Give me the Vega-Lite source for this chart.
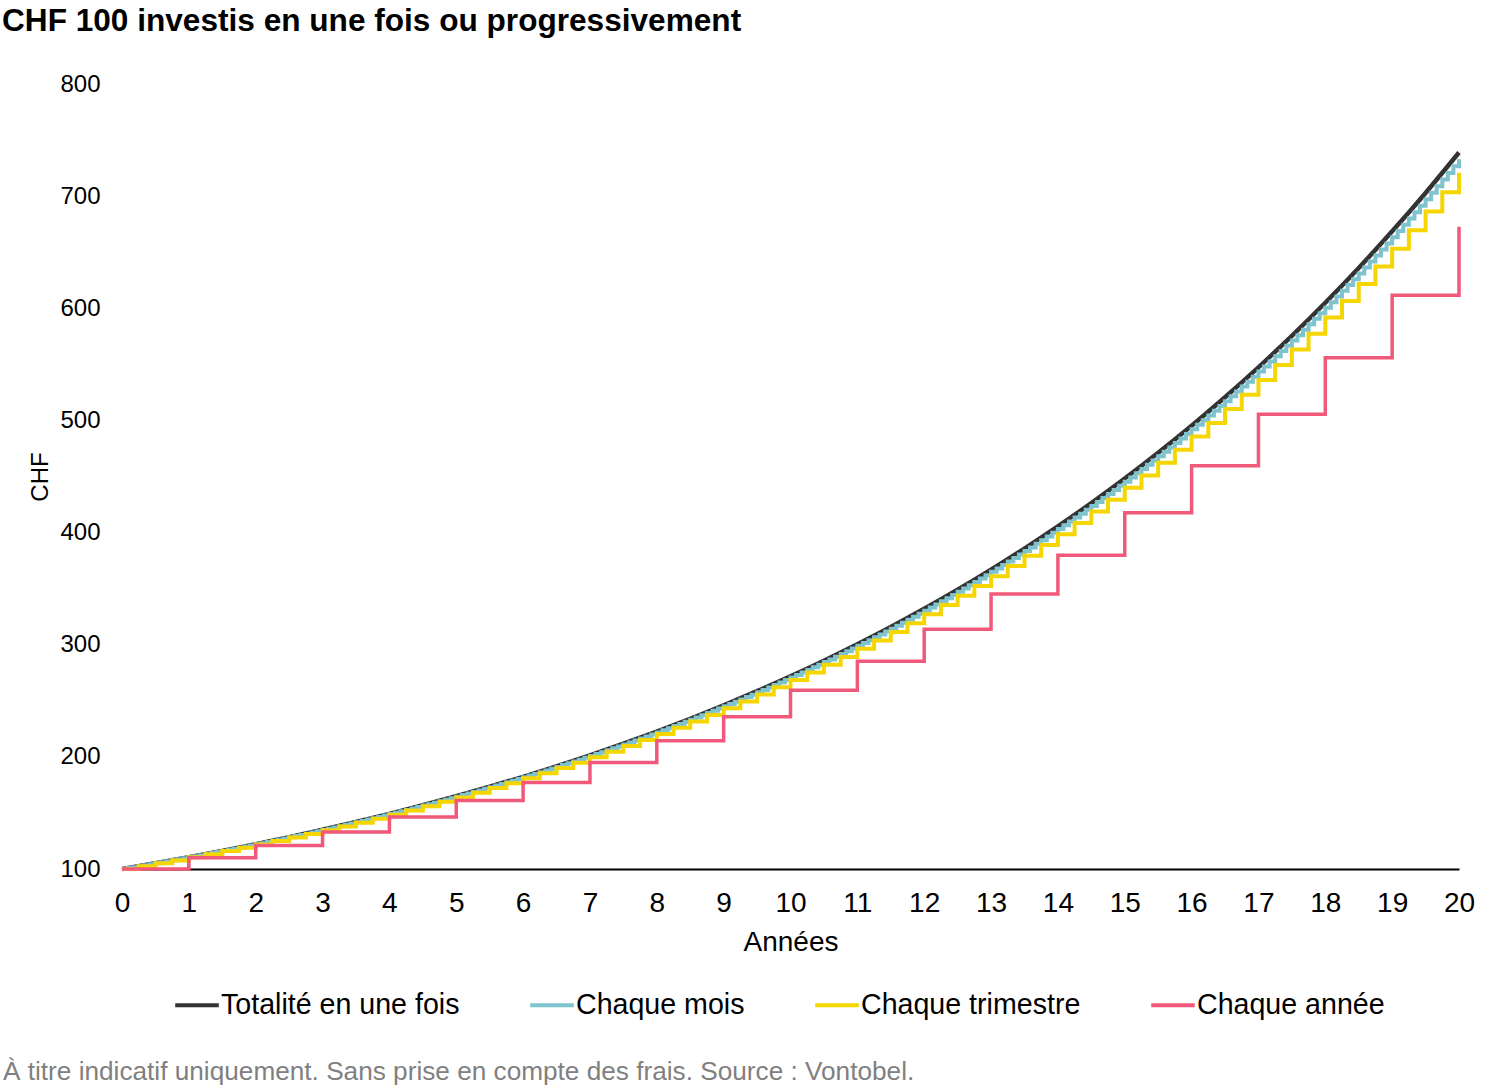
{
  "$schema": "https://vega.github.io/schema/vega-lite/v6.json",
  "width": 1337,
  "height": 785,
  "autosize": {"type": "none"},
  "padding": {"left": 122, "top": 84, "right": 41, "bottom": 218},
  "background": "white",
  "title": {
    "text": "CHF 100 investis en une fois ou progressivement",
    "anchor": "start",
    "frame": "group",
    "dx": -120,
    "offset": 34,
    "fontSize": 31.6,
    "fontWeight": "bold",
    "font": "Liberation Sans",
    "color": "#000000"
  },
  "config": {
    "view": {"stroke": null},
    "font": "Liberation Sans",
    "legend": {
      "symbolType": "stroke",
      "symbolSize": 1900,
      "symbolStrokeWidth": 4,
      "labelFontSize": 28.6,
      "labelFont": "Liberation Sans",
      "labelColor": "#000000",
      "labelOffset": 0,
      "labelLimit": 0,
      "columnPadding": 62,
      "padding": 0
    }
  },
  "datasets": {
    "unefois": [
      {"t": 0, "v": 100}, {"t": 0.5, "v": 105.13}, {"t": 1, "v": 110.52}, {"t": 1.5, "v": 116.18},
      {"t": 2, "v": 122.14}, {"t": 2.5, "v": 128.40}, {"t": 3, "v": 134.99}, {"t": 3.5, "v": 141.91},
      {"t": 4, "v": 149.18}, {"t": 4.5, "v": 156.83}, {"t": 5, "v": 164.87}, {"t": 5.5, "v": 173.33},
      {"t": 6, "v": 182.21}, {"t": 6.5, "v": 191.55}, {"t": 7, "v": 201.38}, {"t": 7.5, "v": 211.70},
      {"t": 8, "v": 222.55}, {"t": 8.5, "v": 233.96}, {"t": 9, "v": 245.96}, {"t": 9.5, "v": 258.57},
      {"t": 10, "v": 271.83}, {"t": 10.5, "v": 285.77}, {"t": 11, "v": 300.42}, {"t": 11.5, "v": 315.82},
      {"t": 12, "v": 332.01}, {"t": 12.5, "v": 349.03}, {"t": 13, "v": 366.93}, {"t": 13.5, "v": 385.74},
      {"t": 14, "v": 405.52}, {"t": 14.5, "v": 426.31}, {"t": 15, "v": 448.17}, {"t": 15.5, "v": 471.15},
      {"t": 16, "v": 495.30}, {"t": 16.5, "v": 520.70}, {"t": 17, "v": 547.39}, {"t": 17.5, "v": 575.46},
      {"t": 18, "v": 604.96}, {"t": 18.5, "v": 635.98}, {"t": 19, "v": 668.59}, {"t": 19.5, "v": 702.87},
      {"t": 20, "v": 738.91}
    ],
    "mois": [
      {"t": 0, "v": 100}, {"t": 0.0833, "v": 100.83}, {"t": 0.1667, "v": 101.67}, {"t": 0.25, "v": 102.52}, {"t": 0.3333, "v": 103.38}, {"t": 0.4167, "v": 104.24},
      {"t": 0.5, "v": 105.11}, {"t": 0.5833, "v": 105.98}, {"t": 0.6667, "v": 106.86}, {"t": 0.75, "v": 107.75}, {"t": 0.8333, "v": 108.65}, {"t": 0.9167, "v": 109.56},
      {"t": 1, "v": 110.47}, {"t": 1.0833, "v": 111.39}, {"t": 1.1667, "v": 112.32}, {"t": 1.25, "v": 113.26}, {"t": 1.3333, "v": 114.20}, {"t": 1.4167, "v": 115.15},
      {"t": 1.5, "v": 116.11}, {"t": 1.5833, "v": 117.08}, {"t": 1.6667, "v": 118.05}, {"t": 1.75, "v": 119.04}, {"t": 1.8333, "v": 120.03}, {"t": 1.9167, "v": 121.03},
      {"t": 2, "v": 122.04}, {"t": 2.0833, "v": 123.06}, {"t": 2.1667, "v": 124.08}, {"t": 2.25, "v": 125.12}, {"t": 2.3333, "v": 126.16}, {"t": 2.4167, "v": 127.21},
      {"t": 2.5, "v": 128.27}, {"t": 2.5833, "v": 129.34}, {"t": 2.6667, "v": 130.42}, {"t": 2.75, "v": 131.50}, {"t": 2.8333, "v": 132.60}, {"t": 2.9167, "v": 133.70},
      {"t": 3, "v": 134.82}, {"t": 3.0833, "v": 135.94}, {"t": 3.1667, "v": 137.07}, {"t": 3.25, "v": 138.22}, {"t": 3.3333, "v": 139.37}, {"t": 3.4167, "v": 140.53},
      {"t": 3.5, "v": 141.70}, {"t": 3.5833, "v": 142.88}, {"t": 3.6667, "v": 144.07}, {"t": 3.75, "v": 145.27}, {"t": 3.8333, "v": 146.48}, {"t": 3.9167, "v": 147.70},
      {"t": 4, "v": 148.94}, {"t": 4.0833, "v": 150.18}, {"t": 4.1667, "v": 151.43}, {"t": 4.25, "v": 152.69}, {"t": 4.3333, "v": 153.96}, {"t": 4.4167, "v": 155.25},
      {"t": 4.5, "v": 156.54}, {"t": 4.5833, "v": 157.84}, {"t": 4.6667, "v": 159.16}, {"t": 4.75, "v": 160.49}, {"t": 4.8333, "v": 161.82}, {"t": 4.9167, "v": 163.17},
      {"t": 5, "v": 164.53}, {"t": 5.0833, "v": 165.90}, {"t": 5.1667, "v": 167.28}, {"t": 5.25, "v": 168.68}, {"t": 5.3333, "v": 170.08}, {"t": 5.4167, "v": 171.50},
      {"t": 5.5, "v": 172.93}, {"t": 5.5833, "v": 174.37}, {"t": 5.6667, "v": 175.83}, {"t": 5.75, "v": 177.29}, {"t": 5.8333, "v": 178.77}, {"t": 5.9167, "v": 180.26},
      {"t": 6, "v": 181.76}, {"t": 6.0833, "v": 183.27}, {"t": 6.1667, "v": 184.80}, {"t": 6.25, "v": 186.34}, {"t": 6.3333, "v": 187.89}, {"t": 6.4167, "v": 189.46},
      {"t": 6.5, "v": 191.04}, {"t": 6.5833, "v": 192.63}, {"t": 6.6667, "v": 194.24}, {"t": 6.75, "v": 195.85}, {"t": 6.8333, "v": 197.49}, {"t": 6.9167, "v": 199.13},
      {"t": 7, "v": 200.79}, {"t": 7.0833, "v": 202.47}, {"t": 7.1667, "v": 204.15}, {"t": 7.25, "v": 205.85}, {"t": 7.3333, "v": 207.57}, {"t": 7.4167, "v": 209.30},
      {"t": 7.5, "v": 211.04}, {"t": 7.5833, "v": 212.80}, {"t": 7.6667, "v": 214.58}, {"t": 7.75, "v": 216.36}, {"t": 7.8333, "v": 218.17}, {"t": 7.9167, "v": 219.98},
      {"t": 8, "v": 221.82}, {"t": 8.0833, "v": 223.67}, {"t": 8.1667, "v": 225.53}, {"t": 8.25, "v": 227.41}, {"t": 8.3333, "v": 229.30}, {"t": 8.4167, "v": 231.22},
      {"t": 8.5, "v": 233.14}, {"t": 8.5833, "v": 235.08}, {"t": 8.6667, "v": 237.04}, {"t": 8.75, "v": 239.02}, {"t": 8.8333, "v": 241.01}, {"t": 8.9167, "v": 243.02},
      {"t": 9, "v": 245.04}, {"t": 9.0833, "v": 247.09}, {"t": 9.1667, "v": 249.15}, {"t": 9.25, "v": 251.22}, {"t": 9.3333, "v": 253.32}, {"t": 9.4167, "v": 255.43},
      {"t": 9.5, "v": 257.56}, {"t": 9.5833, "v": 259.70}, {"t": 9.6667, "v": 261.87}, {"t": 9.75, "v": 264.05}, {"t": 9.8333, "v": 266.25}, {"t": 9.9167, "v": 268.47},
      {"t": 10, "v": 270.70}, {"t": 10.0833, "v": 272.96}, {"t": 10.1667, "v": 275.23}, {"t": 10.25, "v": 277.53}, {"t": 10.3333, "v": 279.84}, {"t": 10.4167, "v": 282.17},
      {"t": 10.5, "v": 284.52}, {"t": 10.5833, "v": 286.90}, {"t": 10.6667, "v": 289.29}, {"t": 10.75, "v": 291.70}, {"t": 10.8333, "v": 294.13}, {"t": 10.9167, "v": 296.58},
      {"t": 11, "v": 299.05}, {"t": 11.0833, "v": 301.54}, {"t": 11.1667, "v": 304.06}, {"t": 11.25, "v": 306.59}, {"t": 11.3333, "v": 309.14}, {"t": 11.4167, "v": 311.72},
      {"t": 11.5, "v": 314.32}, {"t": 11.5833, "v": 316.94}, {"t": 11.6667, "v": 319.58}, {"t": 11.75, "v": 322.24}, {"t": 11.8333, "v": 324.93}, {"t": 11.9167, "v": 327.63},
      {"t": 12, "v": 330.36}, {"t": 12.0833, "v": 333.12}, {"t": 12.1667, "v": 335.89}, {"t": 12.25, "v": 338.69}, {"t": 12.3333, "v": 341.52}, {"t": 12.4167, "v": 344.36},
      {"t": 12.5, "v": 347.23}, {"t": 12.5833, "v": 350.12}, {"t": 12.6667, "v": 353.04}, {"t": 12.75, "v": 355.98}, {"t": 12.8333, "v": 358.95}, {"t": 12.9167, "v": 361.94},
      {"t": 13, "v": 364.96}, {"t": 13.0833, "v": 368.00}, {"t": 13.1667, "v": 371.07}, {"t": 13.25, "v": 374.16}, {"t": 13.3333, "v": 377.28}, {"t": 13.4167, "v": 380.42},
      {"t": 13.5, "v": 383.59}, {"t": 13.5833, "v": 386.79}, {"t": 13.6667, "v": 390.01}, {"t": 13.75, "v": 393.26}, {"t": 13.8333, "v": 396.54}, {"t": 13.9167, "v": 399.84},
      {"t": 14, "v": 403.17}, {"t": 14.0833, "v": 406.53}, {"t": 14.1667, "v": 409.92}, {"t": 14.25, "v": 413.34}, {"t": 14.3333, "v": 416.78}, {"t": 14.4167, "v": 420.26},
      {"t": 14.5, "v": 423.76}, {"t": 14.5833, "v": 427.29}, {"t": 14.6667, "v": 430.85}, {"t": 14.75, "v": 434.44}, {"t": 14.8333, "v": 438.06}, {"t": 14.9167, "v": 441.71},
      {"t": 15, "v": 445.39}, {"t": 15.0833, "v": 449.10}, {"t": 15.1667, "v": 452.85}, {"t": 15.25, "v": 456.62}, {"t": 15.3333, "v": 460.42}, {"t": 15.4167, "v": 464.26},
      {"t": 15.5, "v": 468.13}, {"t": 15.5833, "v": 472.03}, {"t": 15.6667, "v": 475.97}, {"t": 15.75, "v": 479.93}, {"t": 15.8333, "v": 483.93}, {"t": 15.9167, "v": 487.96},
      {"t": 16, "v": 492.03}, {"t": 16.0833, "v": 496.13}, {"t": 16.1667, "v": 500.26}, {"t": 16.25, "v": 504.43}, {"t": 16.3333, "v": 508.64}, {"t": 16.4167, "v": 512.88},
      {"t": 16.5, "v": 517.15}, {"t": 16.5833, "v": 521.46}, {"t": 16.6667, "v": 525.80}, {"t": 16.75, "v": 530.19}, {"t": 16.8333, "v": 534.60}, {"t": 16.9167, "v": 539.06},
      {"t": 17, "v": 543.55}, {"t": 17.0833, "v": 548.08}, {"t": 17.1667, "v": 552.65}, {"t": 17.25, "v": 557.25}, {"t": 17.3333, "v": 561.90}, {"t": 17.4167, "v": 566.58},
      {"t": 17.5, "v": 571.30}, {"t": 17.5833, "v": 576.06}, {"t": 17.6667, "v": 580.86}, {"t": 17.75, "v": 585.70}, {"t": 17.8333, "v": 590.59}, {"t": 17.9167, "v": 595.51},
      {"t": 18, "v": 600.47}, {"t": 18.0833, "v": 605.47}, {"t": 18.1667, "v": 610.52}, {"t": 18.25, "v": 615.61}, {"t": 18.3333, "v": 620.74}, {"t": 18.4167, "v": 625.91},
      {"t": 18.5, "v": 631.13}, {"t": 18.5833, "v": 636.38}, {"t": 18.6667, "v": 641.69}, {"t": 18.75, "v": 647.04}, {"t": 18.8333, "v": 652.43}, {"t": 18.9167, "v": 657.86},
      {"t": 19, "v": 663.35}, {"t": 19.0833, "v": 668.87}, {"t": 19.1667, "v": 674.45}, {"t": 19.25, "v": 680.07}, {"t": 19.3333, "v": 685.74}, {"t": 19.4167, "v": 691.45},
      {"t": 19.5, "v": 697.21}, {"t": 19.5833, "v": 703.02}, {"t": 19.6667, "v": 708.88}, {"t": 19.75, "v": 714.79}, {"t": 19.8333, "v": 720.74}, {"t": 19.9167, "v": 726.75},
      {"t": 20, "v": 732.81}
    ],
    "trimestre": [
      {"t": 0, "v": 100}, {"t": 0.25, "v": 102.5}, {"t": 0.5, "v": 105.06}, {"t": 0.75, "v": 107.69},
      {"t": 1, "v": 110.38}, {"t": 1.25, "v": 113.14}, {"t": 1.5, "v": 115.97}, {"t": 1.75, "v": 118.87},
      {"t": 2, "v": 121.84}, {"t": 2.25, "v": 124.89}, {"t": 2.5, "v": 128.01}, {"t": 2.75, "v": 131.21},
      {"t": 3, "v": 134.49}, {"t": 3.25, "v": 137.85}, {"t": 3.5, "v": 141.30}, {"t": 3.75, "v": 144.83},
      {"t": 4, "v": 148.45}, {"t": 4.25, "v": 152.16}, {"t": 4.5, "v": 155.97}, {"t": 4.75, "v": 159.87},
      {"t": 5, "v": 163.86}, {"t": 5.25, "v": 167.96}, {"t": 5.5, "v": 172.16}, {"t": 5.75, "v": 176.46},
      {"t": 6, "v": 180.87}, {"t": 6.25, "v": 185.39}, {"t": 6.5, "v": 190.03}, {"t": 6.75, "v": 194.78},
      {"t": 7, "v": 199.65}, {"t": 7.25, "v": 204.64}, {"t": 7.5, "v": 209.76}, {"t": 7.75, "v": 215.00},
      {"t": 8, "v": 220.38}, {"t": 8.25, "v": 225.89}, {"t": 8.5, "v": 231.53}, {"t": 8.75, "v": 237.32},
      {"t": 9, "v": 243.25}, {"t": 9.25, "v": 249.33}, {"t": 9.5, "v": 255.57}, {"t": 9.75, "v": 261.96},
      {"t": 10, "v": 268.51}, {"t": 10.25, "v": 275.22}, {"t": 10.5, "v": 282.10}, {"t": 10.75, "v": 289.15},
      {"t": 11, "v": 296.38}, {"t": 11.25, "v": 303.79}, {"t": 11.5, "v": 311.39}, {"t": 11.75, "v": 319.17},
      {"t": 12, "v": 327.15}, {"t": 12.25, "v": 335.33}, {"t": 12.5, "v": 343.71}, {"t": 12.75, "v": 352.30},
      {"t": 13, "v": 361.11}, {"t": 13.25, "v": 370.14}, {"t": 13.5, "v": 379.39}, {"t": 13.75, "v": 388.88},
      {"t": 14, "v": 398.60}, {"t": 14.25, "v": 408.56}, {"t": 14.5, "v": 418.78}, {"t": 14.75, "v": 429.25},
      {"t": 15, "v": 439.98}, {"t": 15.25, "v": 450.98}, {"t": 15.5, "v": 462.25}, {"t": 15.75, "v": 473.81},
      {"t": 16, "v": 485.65}, {"t": 16.25, "v": 497.80}, {"t": 16.5, "v": 510.24}, {"t": 16.75, "v": 523.00},
      {"t": 17, "v": 536.07}, {"t": 17.25, "v": 549.47}, {"t": 17.5, "v": 563.21}, {"t": 17.75, "v": 577.29},
      {"t": 18, "v": 591.72}, {"t": 18.25, "v": 606.52}, {"t": 18.5, "v": 621.68}, {"t": 18.75, "v": 637.22},
      {"t": 19, "v": 653.15}, {"t": 19.25, "v": 669.48}, {"t": 19.5, "v": 686.22}, {"t": 19.75, "v": 703.37},
      {"t": 20, "v": 720.96}
    ],
    "annee": [
      {"t": 0, "v": 100}, {"t": 1, "v": 110}, {"t": 2, "v": 121}, {"t": 3, "v": 133.1},
      {"t": 4, "v": 146.41}, {"t": 5, "v": 161.05}, {"t": 6, "v": 177.16}, {"t": 7, "v": 194.87},
      {"t": 8, "v": 214.36}, {"t": 9, "v": 235.79}, {"t": 10, "v": 259.37}, {"t": 11, "v": 285.31},
      {"t": 12, "v": 313.84}, {"t": 13, "v": 345.23}, {"t": 14, "v": 379.75}, {"t": 15, "v": 417.72},
      {"t": 16, "v": 459.50}, {"t": 17, "v": 505.45}, {"t": 18, "v": 555.99}, {"t": 19, "v": 611.59},
      {"t": 20, "v": 672.75}
    ],
    "note": [
      {"texte": "À titre indicatif uniquement. Sans prise en compte des frais. Source : Vontobel."}
    ]
  },
  "encoding": {
    "x": {
      "field": "t",
      "type": "quantitative",
      "title": "Années",
      "scale": {"domain": [0, 20], "nice": false},
      "axis": {
        "values": [0, 1, 2, 3, 4, 5, 6, 7, 8, 9, 10, 11, 12, 13, 14, 15, 16, 17, 18, 19, 20],
        "format": "d",
        "grid": false,
        "ticks": false,
        "domain": true,
        "domainColor": "#000000",
        "domainWidth": 2,
        "labelFont": "Liberation Sans",
        "labelFontSize": 28,
        "labelColor": "#000000",
        "labelPadding": 20,
        "labelFlush": false,
        "labelOverlap": false,
        "titleFont": "Liberation Sans",
        "titleFontSize": 28,
        "titleFontWeight": "normal",
        "titleColor": "#000000",
        "titlePadding": 11
      }
    },
    "y": {
      "field": "v",
      "type": "quantitative",
      "title": "CHF",
      "scale": {"domain": [100, 800], "nice": false, "zero": false},
      "axis": {
        "values": [100, 200, 300, 400, 500, 600, 700, 800],
        "grid": false,
        "ticks": false,
        "domain": false,
        "labelFont": "Liberation Sans",
        "labelFontSize": 24,
        "labelColor": "#000000",
        "labelPadding": 22,
        "titleFont": "Liberation Sans",
        "titleFontSize": 24,
        "titleFontWeight": "normal",
        "titleColor": "#000000",
        "titlePadding": 7
      }
    }
  },
  "layer": [
    {
      "data": {"name": "unefois"},
      "mark": {"type": "line", "interpolate": "monotone", "strokeWidth": 4.5},
      "encoding": {
        "color": {
          "datum": "Totalité en une fois",
          "type": "nominal",
          "scale": {
            "domain": ["Totalité en une fois", "Chaque mois", "Chaque trimestre", "Chaque année"],
            "range": ["#333333", "#7fc3cf", "#f5d600", "#f0597a"]
          },
          "legend": {
            "title": null,
            "orient": "none",
            "direction": "horizontal",
            "legendX": 51,
            "legendY": 897
          }
        }
      }
    },
    {
      "data": {"name": "mois"},
      "mark": {"type": "line", "interpolate": "step-after", "strokeWidth": 4},
      "encoding": {
        "color": {
          "datum": "Chaque mois",
          "type": "nominal",
          "scale": {
            "domain": ["Totalité en une fois", "Chaque mois", "Chaque trimestre", "Chaque année"],
            "range": ["#333333", "#7fc3cf", "#f5d600", "#f0597a"]
          }
        }
      }
    },
    {
      "data": {"name": "trimestre"},
      "mark": {"type": "line", "interpolate": "step-after", "strokeWidth": 4},
      "encoding": {
        "color": {
          "datum": "Chaque trimestre",
          "type": "nominal",
          "scale": {
            "domain": ["Totalité en une fois", "Chaque mois", "Chaque trimestre", "Chaque année"],
            "range": ["#333333", "#7fc3cf", "#f5d600", "#f0597a"]
          }
        }
      }
    },
    {
      "data": {"name": "annee"},
      "mark": {"type": "line", "interpolate": "step-after", "strokeWidth": 3.5},
      "encoding": {
        "color": {
          "datum": "Chaque année",
          "type": "nominal",
          "scale": {
            "domain": ["Totalité en une fois", "Chaque mois", "Chaque trimestre", "Chaque année"],
            "range": ["#333333", "#7fc3cf", "#f5d600", "#f0597a"]
          }
        }
      }
    },
    {
      "data": {"name": "note"},
      "mark": {
        "type": "text",
        "align": "left",
        "baseline": "middle",
        "font": "Liberation Sans",
        "fontSize": 26.2,
        "color": "#808080"
      },
      "encoding": {
        "text": {"field": "texte", "type": "nominal"},
        "x": {"value": -119},
        "y": {"value": 988}
      }
    }
  ]
}
